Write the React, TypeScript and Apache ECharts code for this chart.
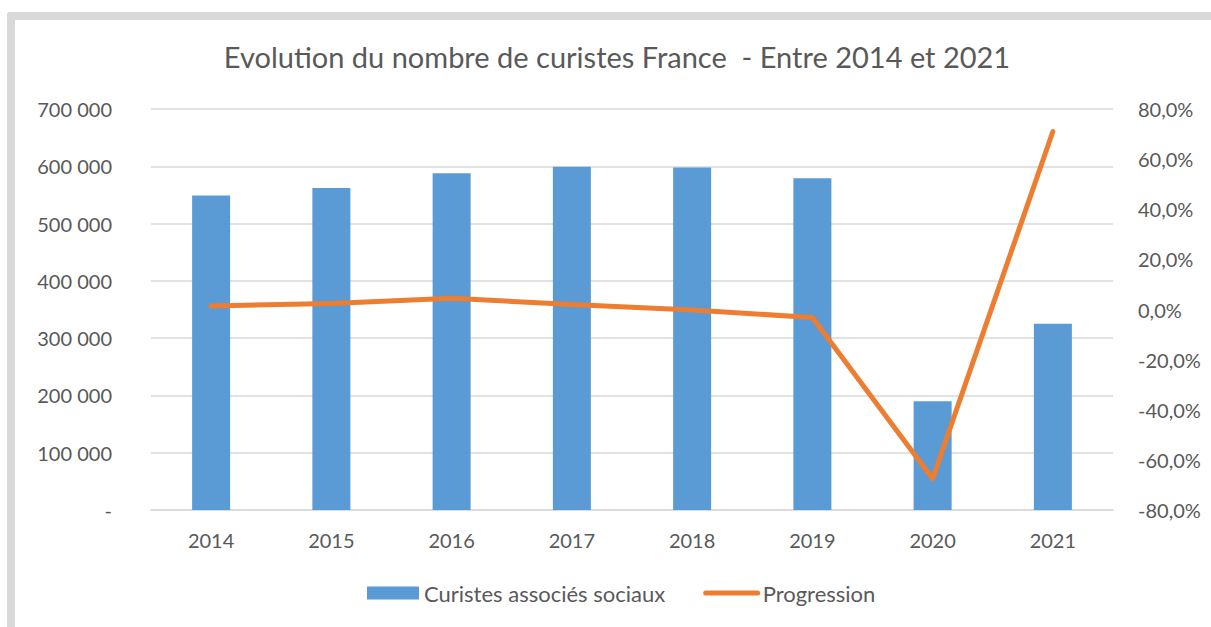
import React, { useEffect, useRef } from "react";
import * as echarts from "echarts";

const categories = ["2014", "2015", "2016", "2017", "2018", "2019", "2020", "2021"];
const curistes = [549000, 562000, 588000, 599000, 598000, 579000, 190000, 325000];
const progression = [1.4, 2.4, 4.5, 2.0, -0.2, -3.2, -67.5, 71.0];

const titleText = "Evolution du nombre de curistes France  - Entre 2014 et 2021";
const barName = "Curistes associés sociaux";
const lineName = "Progression";

const FONT = "Lato, 'Open Sans', sans-serif";
const TXT = "#595959";

function fmtThousands(v: number): string {
  if (v === 0) return "-";
  return String(Math.round(v)).replace(/\B(?=(\d{3})+(?!\d))/g, " ");
}

function fmtPct(v: number): string {
  return v.toFixed(1).replace(".", ",") + "%";
}

export default function App() {
  const ref = useRef<HTMLDivElement>(null);

  useEffect(() => {
    if (!ref.current) return;
    const chart = echarts.init(ref.current, null, { renderer: "svg" });
    chart.setOption({
      animation: false,
      textStyle: { fontFamily: FONT },
      graphic: [
        {
          type: "text",
          x: 617,
          y: 56,
          style: {
            text: titleText,
            fill: TXT,
            font: `29px ${FONT}`,
            textAlign: "center",
            textVerticalAlign: "middle",
          },
        },
      ],
      legend: {
        left: 362,
        top: 577,
        itemGap: 38,
        itemWidth: 52,
        itemHeight: 13,
        textStyle: { color: TXT, fontSize: 22, fontFamily: FONT },
        data: [
          { name: barName, icon: "rect" },
          {
            name: lineName,
            itemStyle: { opacity: 0 },
            lineStyle: { width: 5, cap: "round", color: "#ED7D31" },
          },
        ],
      },
      grid: { left: 151, right: 98, top: 109, bottom: 117, containLabel: false },
      xAxis: {
        type: "category",
        data: categories,
        axisLine: { lineStyle: { color: "#d9d9d9", width: 1.5 } },
        axisTick: { show: false },
        axisLabel: { color: TXT, fontSize: 20, margin: 20, fontFamily: FONT },
      },
      yAxis: [
        {
          type: "value",
          min: 0,
          max: 700000,
          interval: 100000,
          axisLine: { show: false },
          axisTick: { show: false },
          splitLine: { lineStyle: { color: "#d9d9d9", width: 1.5 } },
          axisLabel: { color: TXT, fontSize: 20, margin: 39, fontFamily: FONT, formatter: fmtThousands },
        },
        {
          type: "value",
          min: -80,
          max: 80,
          interval: 20,
          axisLine: { show: false },
          axisTick: { show: false },
          splitLine: { show: false },
          axisLabel: { color: TXT, fontSize: 20, margin: 25, fontFamily: FONT, formatter: fmtPct },
        },
      ],
      series: [
        {
          name: barName,
          type: "bar",
          data: curistes,
          barWidth: 38,
          itemStyle: { color: "#5B9BD5" },
          yAxisIndex: 0,
        },
        {
          name: lineName,
          type: "line",
          data: progression,
          yAxisIndex: 1,
          symbol: "none",
          smooth: false,
          itemStyle: { color: "#ED7D31" },
          lineStyle: { color: "#ED7D31", width: 5, cap: "round", join: "round" },
        },
      ],
    });
    return () => chart.dispose();
  }, []);

  return (
    <div style={{ position: "absolute", left: 0, top: 0, width: 1211, height: 627, overflow: "hidden", background: "#fff" }}>
      <div
        style={{
          position: "absolute",
          left: 7,
          top: 12,
          width: 1300,
          height: 700,
          borderTop: "8px solid #d9d9d9",
          borderLeft: "8px solid #d9d9d9",
          borderTopLeftRadius: 3,
          boxSizing: "border-box",
        }}
      />
      <div ref={ref} style={{ position: "absolute", left: 0, top: 0, width: 1211, height: 627 }} />
    </div>
  );
}
